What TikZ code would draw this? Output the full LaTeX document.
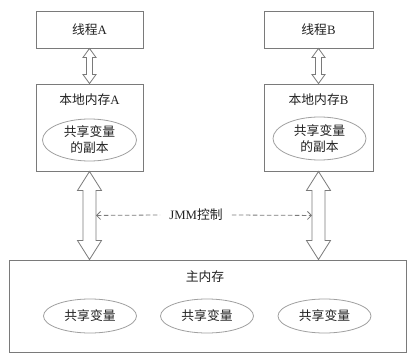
\documentclass[tikz,border=0pt]{standalone}
\usepackage{fontspec}
\setmainfont{Liberation Serif}
\newfontfamily\cjk{Noto Sans CJK SC}
\usetikzlibrary{arrows.meta,calc,shapes.geometric}
\definecolor{linegray}{HTML}{7A7A7A}
\definecolor{ellgray}{HTML}{A0A0A0}
\definecolor{txtgray}{HTML}{222222}
% hollow double block arrow between two points (vertical, #1 above #2)
% #3 shaft half width, #4 head half width, #5 head length
\newcommand\hollowdbl[5]{%
  \draw[blockarrow] let \p1=#1, \p2=#2 in
    (\x1,\y1) -- (\x1+#4,\y1-#5) -- (\x1+#3,\y1-#5) -- (\x1+#3,\y2+#5)
    -- (\x1+#4,\y2+#5) -- (\x1,\y2) -- (\x1-#4,\y2+#5) -- (\x1-#3,\y2+#5)
    -- (\x1-#3,\y1-#5) -- (\x1-#4,\y1-#5) -- cycle;}
\begin{document}
\begin{tikzpicture}[x=1pt,y=-1pt,
  font=\fontsize{12.8}{15}\selectfont, text=txtgray,
  box/.style={draw=linegray, line width=0.9pt, inner sep=0pt},
  ell/.style={ellipse, draw=ellgray, line width=0.8pt, inner sep=0pt, align=center},
  blockarrow/.style={draw=linegray, line width=0.8pt, fill=white, line join=miter},
  jmmline/.style={draw=linegray, line width=0.8pt, dash pattern=on 4.5pt off 2.5pt},
  lbl/.style={inner sep=0pt}]
\useasboundingbox (0,0) rectangle (415,361);
\fill[white] (0,0) rectangle (415,361);

% thread boxes
\node[box, minimum width=107pt, minimum height=37pt] (ta) at (89.5,29.5) {{\cjk 线程}A};
\node[box, minimum width=109pt, minimum height=37pt] (tb) at (318.5,29.5) {{\cjk 线程}B};

% local memory boxes
\node[box, minimum width=107pt, minimum height=87pt] (la) at (89.5,127.5) {};
\node[box, minimum width=109pt, minimum height=87pt] (lb) at (318.5,127.5) {};
\node[lbl] (lal) at (89.5,99.5) {{\cjk 本地内存}A};
\node[lbl] (lbl) at (318.5,99.5) {{\cjk 本地内存}B};
\node[ell, minimum width=94pt, minimum height=42pt] (ea) at (89.5,140)
  {\cjk 共享变量\\[1pt]\cjk 的副本};
\node[ell, minimum width=93pt, minimum height=43pt] (eb) at (319.5,138.5)
  {\cjk 共享变量\\[1pt]\cjk 的副本};

% main memory
\node[box, minimum width=397pt, minimum height=92pt] (mm) at (207.5,306) {};
\node[lbl] (mml) at (205,276.5) {\cjk 主内存};
\node[ell, minimum width=93pt, minimum height=34pt] (m1) at (90,316) {\cjk 共享变量};
\node[ell, minimum width=93pt, minimum height=34pt] (m2) at (207,316) {\cjk 共享变量};
\node[ell, minimum width=93pt, minimum height=34pt] (m3) at (324.5,316) {\cjk 共享变量};

% hollow arrows thread <-> local memory
\hollowdbl{(ta.south)}{(la.north)}{3pt}{6.5pt}{9pt}
\hollowdbl{(tb.south)}{(lb.north)}{3pt}{6.5pt}{9pt}

% hollow arrows local memory <-> main memory
\coordinate (ma) at (la.south |- mm.north);
\coordinate (mb) at (lb.south |- mm.north);
\hollowdbl{(la.south)}{(ma)}{6.5pt}{12pt}{19pt}
\hollowdbl{(lb.south)}{(mb)}{6.5pt}{12pt}{19pt}

% JMM control
\coordinate (jl) at ($(la.south)+(6.5,44)$);
\coordinate (jr) at ($(lb.south)+(-6.5,44)$);
\node[inner xsep=9pt, inner ysep=2pt] (jmm) at (196,215) {JMM{\cjk 控制}};
\draw[jmmline, {Straight Barb[length=4pt,width=8pt]}-] (jl) -- (jmm.west);
\draw[jmmline, -{Straight Barb[length=4pt,width=8pt]}] (jmm.east) -- (jr);
\end{tikzpicture}
\end{document}
